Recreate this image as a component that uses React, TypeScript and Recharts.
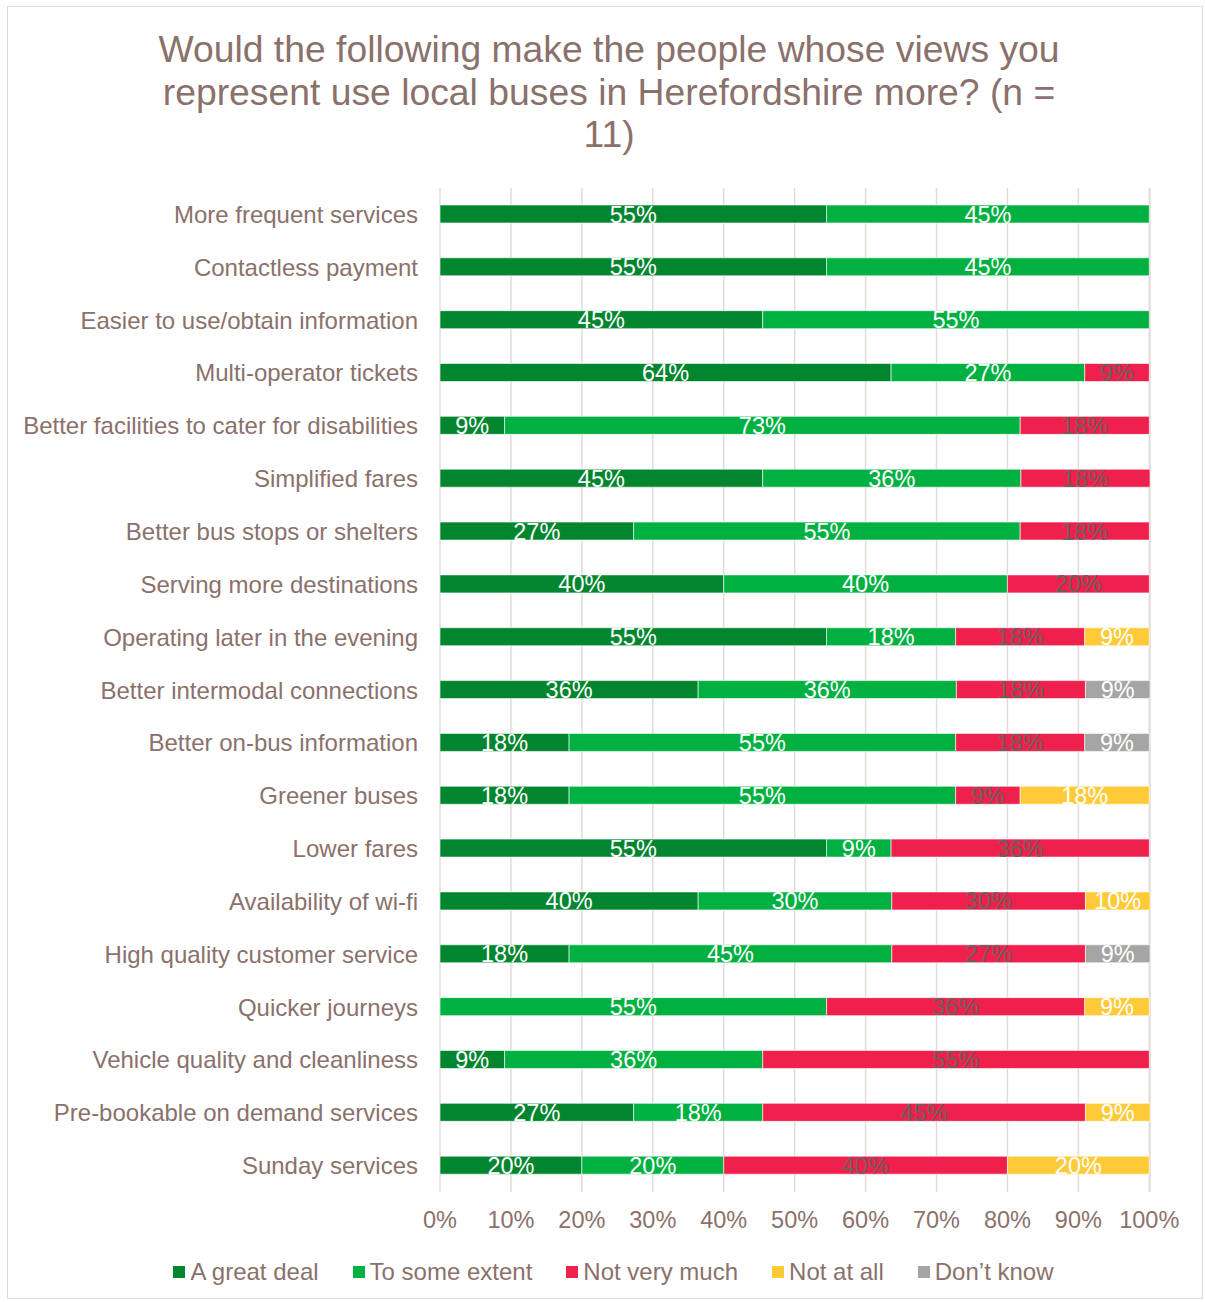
import React from 'react';
import { BarChart, Bar, XAxis, YAxis, CartesianGrid, LabelList } from 'recharts';

const categories = [
  'More frequent services',
  'Contactless payment',
  'Easier to use/obtain information',
  'Multi-operator tickets',
  'Better facilities to cater for disabilities',
  'Simplified fares',
  'Better bus stops or shelters',
  'Serving more destinations',
  'Operating later in the evening',
  'Better intermodal connections',
  'Better on-bus information',
  'Greener buses',
  'Lower fares',
  'Availability of wi-fi',
  'High quality customer service',
  'Quicker journeys',
  'Vehicle quality and cleanliness',
  'Pre-bookable on demand services',
  'Sunday services',
];

// bar lengths (% of respondents)
const greatDeal = [54.5, 54.5, 45.5, 63.6, 9.1, 45.5, 27.3, 40, 54.5, 36.4, 18.2, 18.2, 54.5, 36.4, 18.2, 0, 9.1, 27.3, 20];
const someExtent = [45.5, 45.5, 54.5, 27.3, 72.7, 36.4, 54.5, 40, 18.2, 36.4, 54.5, 54.5, 9.1, 27.3, 45.5, 54.5, 36.4, 18.2, 20];
const notVeryMuch = [0, 0, 0, 9.1, 18.2, 18.2, 18.2, 20, 18.2, 18.2, 18.2, 9.1, 36.4, 27.3, 27.3, 36.4, 54.5, 45.5, 40];
const notAtAll = [0, 0, 0, 0, 0, 0, 0, 0, 9.1, 0, 0, 18.2, 0, 9.1, 0, 9.1, 0, 9.1, 20];
const dontKnow = [0, 0, 0, 0, 0, 0, 0, 0, 0, 9.1, 9.1, 0, 0, 0, 9.1, 0, 0, 0, 0];

// data labels as printed on the bars
const greatDealLabels = ['55%', '55%', '45%', '64%', '9%', '45%', '27%', '40%', '55%', '36%', '18%', '18%', '55%', '40%', '18%', '', '9%', '27%', '20%'];
const someExtentLabels = ['45%', '45%', '55%', '27%', '73%', '36%', '55%', '40%', '18%', '36%', '55%', '55%', '9%', '30%', '45%', '55%', '36%', '18%', '20%'];
const notVeryMuchLabels = ['', '', '', '9%', '18%', '18%', '18%', '20%', '18%', '18%', '18%', '9%', '36%', '30%', '27%', '36%', '55%', '45%', '40%'];
const notAtAllLabels = ['', '', '', '', '', '', '', '', '9%', '', '', '18%', '', '10%', '', '9%', '', '9%', '20%'];
const dontKnowLabels = ['', '', '', '', '', '', '', '', '', '9%', '9%', '', '', '', '9%', '', '', '', ''];

const xTicks = [0, 10, 20, 30, 40, 50, 60, 70, 80, 90, 100];

const TEXT = '#8a716b';
const FONT = '"Liberation Sans", Arial, sans-serif';

const series = [
  { key: 'a', name: 'A great deal', color: '#02852f', labelColor: '#ffffff' },
  { key: 'b', name: 'To some extent', color: '#00b142', labelColor: '#ffffff' },
  { key: 'c', name: 'Not very much', color: '#ef204b', labelColor: '#6f5f5c' },
  { key: 'd', name: 'Not at all', color: '#ffca38', labelColor: '#ffffff' },
  { key: 'e', name: 'Don’t know', color: '#a5a5a5', labelColor: '#ffffff' },
];

const data = categories.map((name, i) => ({
  name,
  a: greatDeal[i],
  b: someExtent[i],
  c: notVeryMuch[i],
  d: notAtAll[i],
  e: dontKnow[i],
  la: greatDealLabels[i],
  lb: someExtentLabels[i],
  lc: notVeryMuchLabels[i],
  ld: notAtAllLabels[i],
  le: dontKnowLabels[i],
}));

const makeLabel = (fill: string) => (props: any) => {
  const { x, y, width, height, value } = props;
  if (!value) return null;
  return (
    <text
      x={Number(x) + Number(width) / 2}
      y={Number(y) + Number(height) / 2 + 8.5}
      textAnchor='middle'
      fill={fill}
      fontSize={23.5}
      fontFamily={FONT}
    >
      {value}
    </text>
  );
};

const YTick = (props: any) => {
  const { x, y, payload } = props;
  return (
    <text x={x} y={y + 8.5} textAnchor='end' fill={TEXT} fontSize={24} fontFamily={FONT}>
      {payload.value}
    </text>
  );
};

const XTick = (props: any) => {
  const { x, y, payload } = props;
  return (
    <text x={x} y={y + 34} textAnchor='middle' fill={TEXT} fontSize={23.5} fontFamily={FONT}>
      {payload.value}%
    </text>
  );
};

const App: React.FC = () => {
  return (
    <div style={{ position: 'absolute', left: 0, top: 0, width: 1205, height: 1302, fontFamily: FONT }}>
      <div
        style={{
          position: 'absolute',
          left: 7,
          top: 6,
          width: 1196,
          height: 1293,
          border: '1.5px solid #e0dbd8',
          boxSizing: 'border-box',
        }}
      />
      <div
        style={{
          position: 'absolute',
          left: 0,
          top: 28,
          width: 1218,
          textAlign: 'center',
          color: TEXT,
          fontSize: 37.3,
          lineHeight: '42.5px',
        }}
      >
        <div>Would the following make the people whose views you</div>
        <div>represent use local buses in Herefordshire more? (n =</div>
        <div>11)</div>
      </div>
      <div style={{ position: 'absolute', left: 0, top: 0 }}>
        <BarChart
          width={1205}
          height={1240}
          data={data}
          layout='vertical'
          barSize={18}
          margin={{ top: 188, right: 55, bottom: 0, left: 0 }}
        >
          <CartesianGrid horizontal={false} stroke='#e2dcd9' strokeWidth={1.5} />
          <XAxis
            type='number'
            domain={[0, 100]}
            ticks={xTicks}
            axisLine={false}
            tickLine={false}
            tickSize={0}
            height={48}
            tick={<XTick />}
            interval={0}
          />
          <YAxis
            type='category'
            dataKey='name'
            width={440}
            axisLine={false}
            tickLine={false}
            tickSize={0}
            tickMargin={22}
            tick={<YTick />}
            interval={0}
          />
          {series.map((s) => (
            <Bar
              key={s.key}
              dataKey={s.key}
              name={s.name}
              stackId='s'
              fill={s.color}
              stroke='#ffffff'
              strokeWidth={0.6}
              isAnimationActive={false}
            >
              <LabelList dataKey={'l' + s.key} content={makeLabel(s.labelColor)} />
            </Bar>
          ))}
        </BarChart>
      </div>
      <div
        style={{
          position: 'absolute',
          left: 0,
          top: 1258,
          width: 1227,
          display: 'flex',
          justifyContent: 'center',
          gap: 34,
          color: TEXT,
          fontSize: 24,
          lineHeight: '28px',
        }}
      >
        {series.map((s) => (
          <div key={s.key} style={{ display: 'flex', alignItems: 'center' }}>
            <span style={{ width: 12, height: 12, background: s.color, marginRight: 5, display: 'inline-block' }} />
            <span>{s.name}</span>
          </div>
        ))}
      </div>
    </div>
  );
};

export default App;
